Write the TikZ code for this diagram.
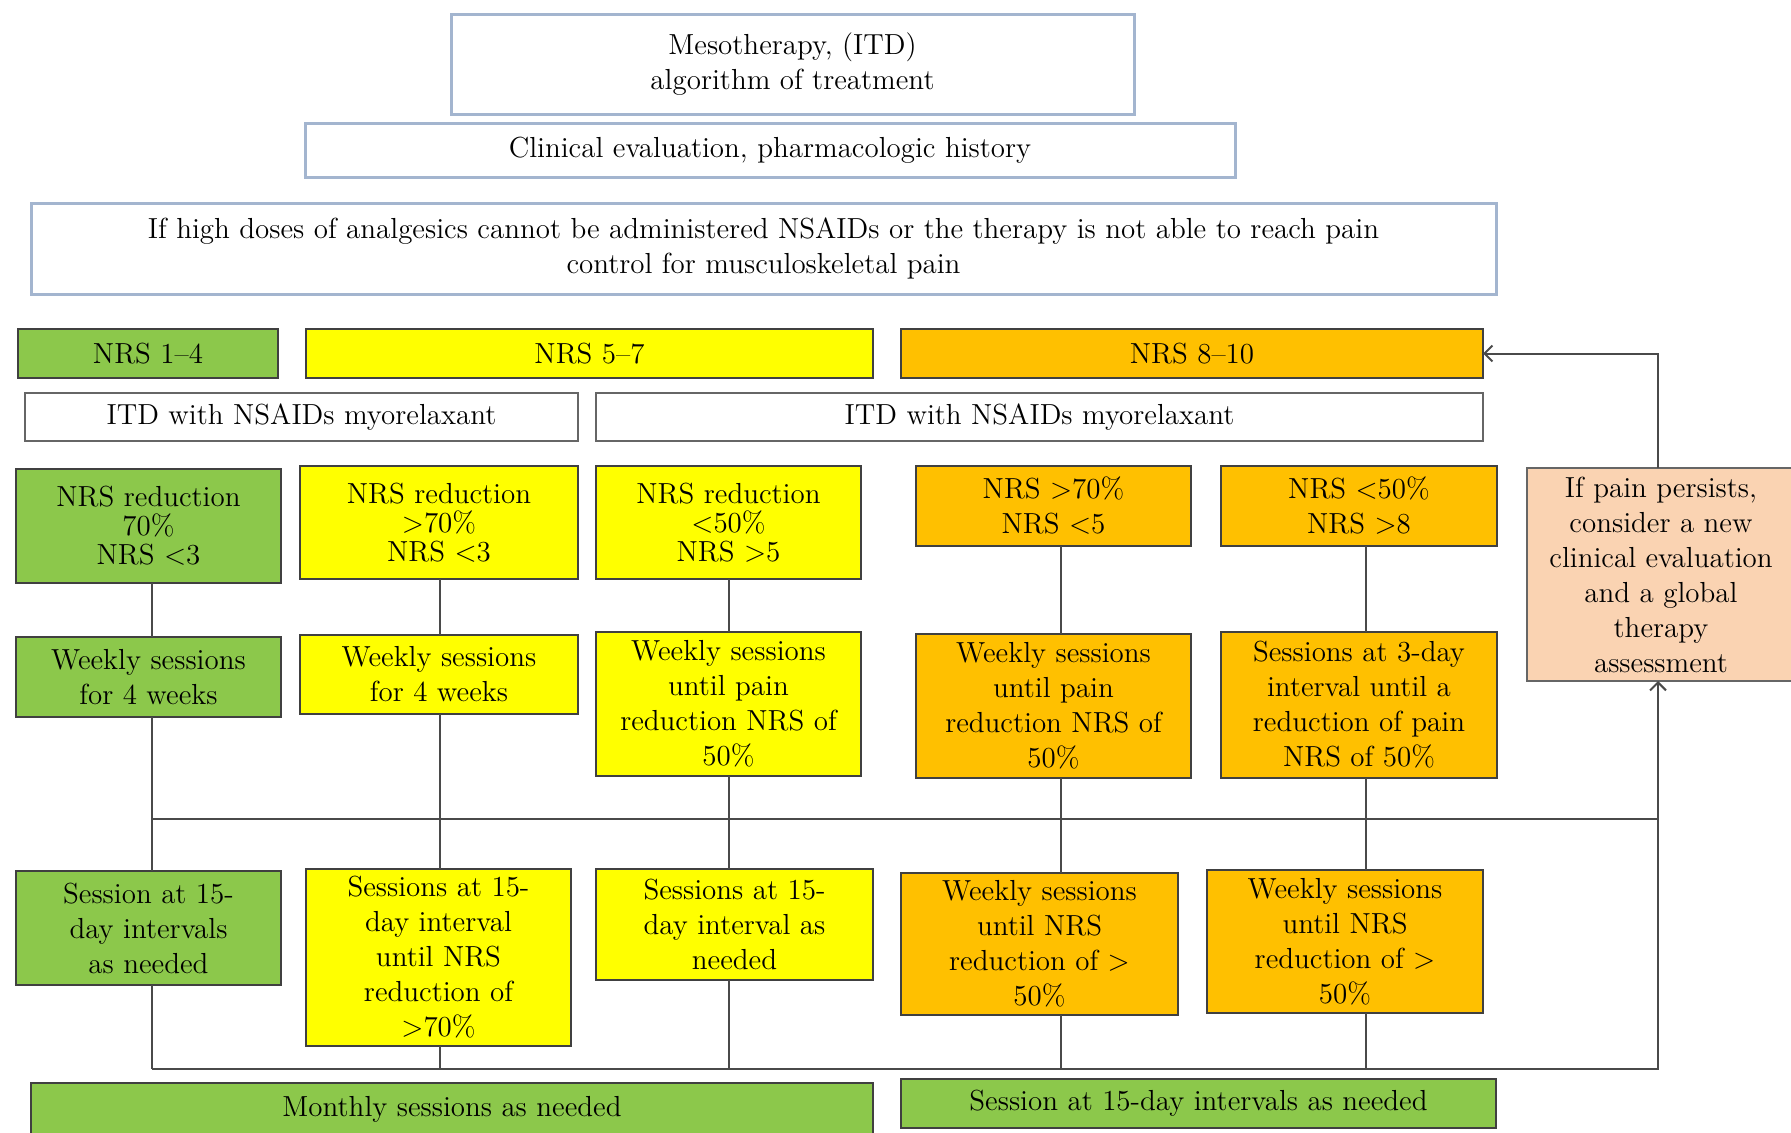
\documentclass[tikz,border=0pt]{standalone}
\usepackage{fontspec}
\usetikzlibrary{arrows.meta}
\definecolor{nrsgreen}{HTML}{8CC84B}
\definecolor{nrsyellow}{HTML}{FFFF00}
\definecolor{nrsorange}{HTML}{FFC000}
\definecolor{evalpink}{HTML}{FAD3B2}
\definecolor{headblue}{HTML}{A3B5CF}
\definecolor{linegray}{HTML}{4A4A4A}
\tikzset{
  box/.style={draw=black!75, line width=1pt, align=center, inner sep=2pt, outer sep=0pt,
    font=\fontsize{14.5}{17.5}\selectfont},
  headbox/.style={box, draw=headblue, line width=1.5pt, fill=white},
  itdbox/.style={box, draw=black!60, fill=white},
  gbox/.style={box, fill=nrsgreen},
  ybox/.style={box, fill=nrsyellow},
  obox/.style={box, fill=nrsorange},
  pbox/.style={box, draw=black!60, fill=evalpink},
  tight/.style={font=\fontsize{14.5}{14.5}\selectfont},
  conn/.style={draw=linegray, line width=1pt},
  arr/.style={conn, -{Straight Barb[length=4pt,width=8pt]}},
}
\begin{document}
\begin{tikzpicture}[x=0.5pt,y=-0.5pt]
			\useasboundingbox (0,0) rectangle (1791,1132);
			% header
			\node[headbox, minimum width=341.5pt, minimum height=50pt] (title) at (792.5,64) {Mesotherapy, (ITD)\\algorithm of treatment};
			\node[headbox, minimum width=465pt, minimum height=27pt] (clin) at (770,150) {Clinical evaluation, pharmacologic history};
			\node[headbox, minimum width=732.5pt, minimum height=45.5pt] (high) at (763.5,248.5) {If high doses of analgesics cannot be administered NSAIDs or the therapy is not able to reach pain\\control for musculoskeletal pain};
			% NRS classes
			\node[gbox, minimum width=130pt, minimum height=24.5pt] (nrsA) at (148,353.5) {NRS 1--4};
			\node[ybox, minimum width=283.5pt, minimum height=24.5pt] (nrsB) at (589.5,353.5) {NRS 5--7};
			\node[obox, minimum width=291pt, minimum height=24.5pt] (nrsC) at (1192,353.5) {NRS 8--10};
			\node[itdbox, minimum width=276.5pt, minimum height=24pt] (itdA) at (301.5,417) {ITD with NSAIDs myorelaxant};
			\node[itdbox, minimum width=443.5pt, minimum height=24pt] (itdB) at (1039.5,417) {ITD with NSAIDs myorelaxant};
			% response
			\node[gbox, tight, minimum width=132.5pt, minimum height=57pt] (rA) at (148.5,526) {NRS reduction\\70\%\\NRS <3};
			\node[ybox, tight, minimum width=139pt, minimum height=56.5pt] (rB) at (439,522.5) {NRS reduction\\>70\%\\NRS <3};
			\node[ybox, tight, minimum width=132.5pt, minimum height=56.5pt] (rC) at (728.5,522.5) {NRS reduction\\<50\%\\NRS >5};
			\node[obox, minimum width=137.5pt, minimum height=40pt] (rD) at (1053.5,506) {NRS >70\%\\NRS <5};
			\node[obox, minimum width=138pt, minimum height=40pt] (rE) at (1359,506) {NRS <50\%\\NRS >8};
			\node[pbox, minimum width=134pt, minimum height=106.5pt] (pink) at (1661,574.5) {If pain persists,\\consider a new\\clinical evaluation\\and a global\\therapy\\assessment};
			% first sessions
			\node[gbox, minimum width=132.5pt, minimum height=40pt] (sA) at (148.5,677) {Weekly sessions\\for 4 weeks};
			\node[ybox, minimum width=139pt, minimum height=39.5pt] (sB) at (439,674.5) {Weekly sessions\\for 4 weeks};
			\node[ybox, minimum width=132.5pt, minimum height=72pt] (sC) at (728.5,704) {Weekly sessions\\until pain\\reduction NRS of\\50\%};
			\node[obox, minimum width=137.5pt, minimum height=72pt] (sD) at (1053.5,706) {Weekly sessions\\until pain\\reduction NRS of\\50\%};
			\node[obox, minimum width=138pt, minimum height=73pt] (sE) at (1359,705) {Sessions at 3-day\\interval until a\\reduction of pain\\NRS of 50\%};
			% follow-up sessions
			\node[gbox, minimum width=132.5pt, minimum height=57pt] (tA) at (148.5,928) {Session at 15-\\day intervals\\as needed};
			\node[ybox, minimum width=132.5pt, minimum height=88.5pt] (tB) at (438.5,957.5) {Sessions at 15-\\day interval\\until NRS\\reduction of\\>70\%};
			\node[ybox, minimum width=138.5pt, minimum height=55.5pt] (tC) at (734.5,924.5) {Sessions at 15-\\day interval as\\needed};
			\node[obox, minimum width=138.5pt, minimum height=71pt] (tD) at (1039.5,944) {Weekly sessions\\until NRS\\reduction of >\\50\%};
			\node[obox, minimum width=138pt, minimum height=71.5pt] (tE) at (1345,941.5) {Weekly sessions\\until NRS\\reduction of >\\50\%};
			% maintenance
			\node[gbox, minimum width=421pt, minimum height=26.5pt] (mon) at (452,1109.5) {Monthly sessions as needed};
			\node[gbox, minimum width=297.5pt, minimum height=24.5pt] (late) at (1198.5,1103.5) {Session at 15-day intervals as needed};
			% columns and rails
			\coordinate (colA) at (152,0);
			\coordinate (colB) at (440,0);
			\coordinate (colC) at (729,0);
			\coordinate (colD) at (1061,0);
			\coordinate (colE) at (1366,0);
			\coordinate (colR) at (1658,0);
			\coordinate (railU) at (0,819);
			\coordinate (railL) at (0,1069);
			\foreach \first/\second/\third/\col in {rA/sA/tA/colA,rB/sB/tB/colB,rC/sC/tC/colC,rD/sD/tD/colD,rE/sE/tE/colE}{
				\draw[conn] (\first.south -| \col) -- (\second.north -| \col);
				\draw[conn] (\second.south -| \col) -- (\third.north -| \col);
				\draw[conn] (\third.south -| \col) -- (railL -| \col);
			}
			\draw[conn] (railU -| colA) -- (railU -| colR);
			\draw[arr] (railL -| colA) -- (railL -| colR) -- (pink.south -| colR);
			\draw[arr] (pink.north -| colR) |- (nrsC.east);
		\end{tikzpicture}
\end{document}
